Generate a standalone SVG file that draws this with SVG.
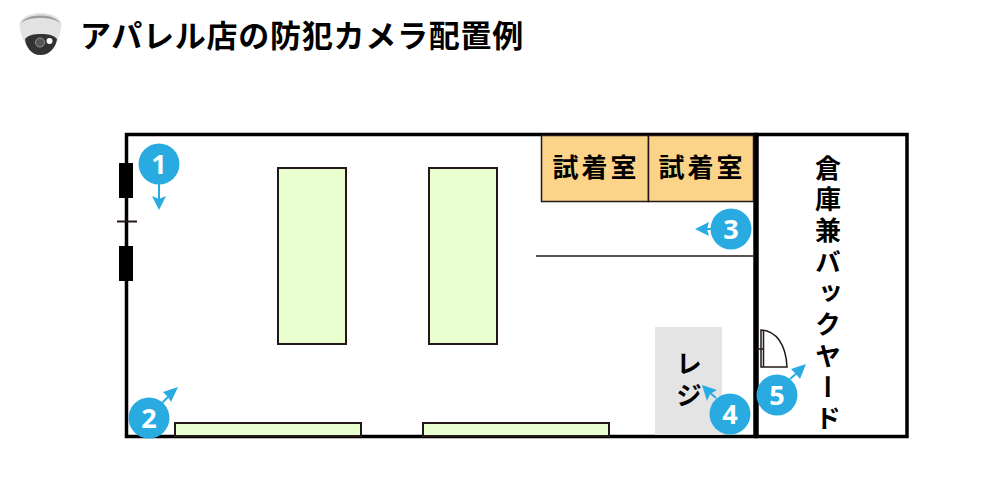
<svg xmlns="http://www.w3.org/2000/svg" width="1000" height="500" viewBox="0 0 1000 500">
<style>
text{font-family:"Noto Sans CJK JP","Noto Sans",sans-serif;font-weight:700;fill:#000;text-anchor:middle}
.title{font-size:31px;text-anchor:start;letter-spacing:.75px}
.room{font-size:26px;letter-spacing:3px}
.vert{font-size:26px;writing-mode:vertical-rl;text-anchor:start}
.wall{fill:none;stroke:#000;stroke-width:3.500}
.thick{fill:none;stroke:#000;stroke-width:5.500}
.thin{fill:none;stroke:#231815;stroke-width:1.500}
.fix{fill:#eaffcf;stroke:#231815;stroke-width:2}
.fit{fill:#fbd48a;stroke:#231815;stroke-width:1.500}
.dot{fill:#29abe2}
.num{font-family:"Open Sans","Noto Sans",sans-serif;font-size:27px;fill:#fff}
.ray{stroke:#29abe2;stroke-width:2;fill:none}
.head{fill:#29abe2}
</style>
<rect width="1000" height="500" fill="#fff"/>
<g id="camera-icon">
<path d="M19.500 26C19.500 18 29 13 40.500 13S61.500 18 61.500 26L60 34C56 46 50 55 40.500 55S25 46 21 34Z" fill="#e3e3e3"/>
<path d="M20 24C24 18 31 15.500 40.500 15.500S57 18 61 24C57 20 50 18 40.500 18S24 20 20 24Z" fill="#9e9e9e"/>
<path d="M25 39C28 35 34 34 41 34S54 35 57 39C56 47 50 55 40.500 55S26 47 25 39Z" fill="#333"/>
<circle cx="40" cy="42.500" r="4.500" fill="#555" stroke="#999"/>
<circle cx="49.500" cy="41" r="3" fill="#fff"/>
</g>
<text id="title" class="title" x="80" y="47">アパレル店の防犯カメラ配置例</text>
<g id="floor-plan">
<rect id="shop" class="wall" x="126.500" y="134.500" width="629.500" height="302"/>
<rect id="backyard" class="wall" x="756" y="134.500" width="151" height="302"/>
<path class="thick" d="M756 133V438"/>
<rect x="119" y="163" width="14" height="35" fill="#000"/>
<rect x="119" y="246" width="14" height="35" fill="#000"/>
<path d="M117 221.500H137" stroke="#231815" stroke-width="2"/>
<path class="thin" d="M536 256H753"/>
<path class="thin" d="M761 330C776 331 786 344 787 367H761Z"/>
<path class="thin" d="M763.500 330V367M757 349H764"/>
</g>
<g id="shelf-1"><rect class="fix" x="278" y="168" width="68" height="176"/></g>
<g id="shelf-2"><rect class="fix" x="429" y="168" width="68" height="176"/></g>
<g id="shelf-3"><rect class="fix" x="175" y="423" width="186" height="13"/></g>
<g id="shelf-4"><rect class="fix" x="423" y="423" width="186" height="13"/></g>
<g id="fitting-1"><rect class="fit" x="541.500" y="135.500" width="107" height="66"/><text class="room" x="596" y="177">試着室</text></g>
<g id="fitting-2"><rect class="fit" x="648.500" y="135.500" width="105" height="66"/><text class="room" x="702" y="177">試着室</text></g>
<g id="register"><rect x="655" y="327" width="67" height="108" fill="#e4e4e4"/><text class="vert" x="689" y="350" letter-spacing="6">レジ</text></g>
<g id="backyard-label"><text class="vert" x="828" y="155" letter-spacing="5.300">倉庫兼バックヤード</text></g>
<g id="connectors">
<path class="ray" d="M159 184V200"/><path class="head" d="M152 196L159 210L166 196L159 199Z"/>
<path class="ray" d="M161 404L170 395"/><path class="head" d="M178 387L163 392L168 397L171 402Z"/>
<path class="ray" d="M712 229H703"/><path class="head" d="M695 229L709 222L707 229L709 236Z"/>
<path class="ray" d="M716 398L708 391"/><path class="head" d="M702 385L717 390L710 394L707 401Z"/>
<path class="ray" d="M790 379L797 373"/><path class="head" d="M806 364L791 369L796 374L800 379Z"/>
</g>
<g id="cam-1"><circle class="dot" cx="159" cy="164" r="20.500"/><text class="num" x="159" y="174">1</text></g>
<g id="cam-2"><circle class="dot" cx="149" cy="418" r="20.500"/><text class="num" x="149" y="428">2</text></g>
<g id="cam-3"><circle class="dot" cx="731" cy="229" r="20.500"/><text class="num" x="731" y="239">3</text></g>
<g id="cam-4"><circle class="dot" cx="730" cy="414" r="20.500"/><text class="num" x="730" y="424">4</text></g>
<g id="cam-5"><circle class="dot" cx="777" cy="395" r="20.500"/><text class="num" x="777" y="405">5</text></g>
</svg>
